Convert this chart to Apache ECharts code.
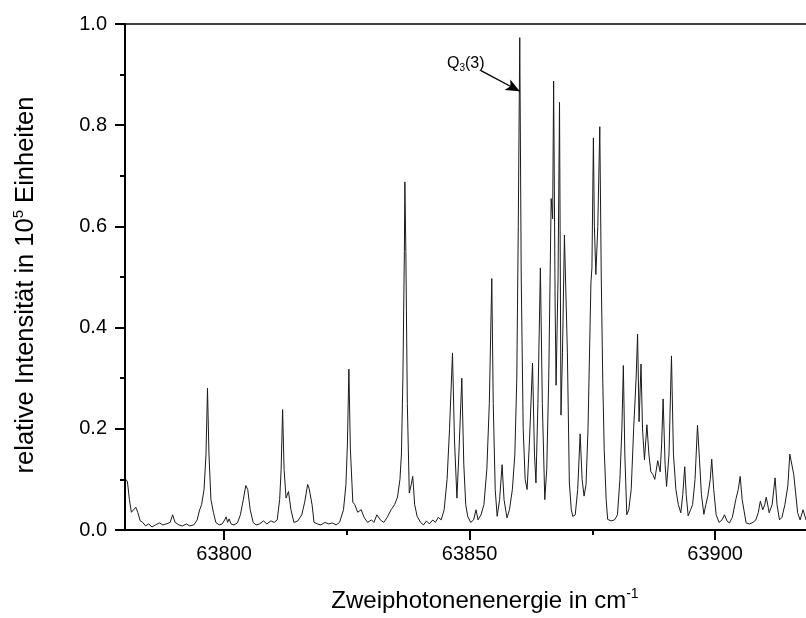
<!DOCTYPE html>
<html>
<head>
<meta charset="utf-8">
<script src="https://cdn.jsdelivr.net/npm/echarts@6/dist/echarts.min.js"></script>
<style>
html,body{margin:0;padding:0;background:#fff;}
#chart{width:806px;height:618px;}
</style>
</head>
<body>
<div id="chart"></div>
<script>
// wavenumber (cm^-1)
var wavenumber = [
63780.0,63780.3,63780.7,63781.1,63781.4,63782.0,63782.4,63782.9,63783.4,63784.0,
63784.6,63785.3,63786.0,63786.8,63787.5,63788.2,63789.0,63789.5,63790.0,63790.8,
63791.5,63792.3,63793.0,63793.8,63794.5,63795.0,63795.4,63795.9,63796.3,63796.6,
63796.9,63797.3,63797.8,63798.3,63799.0,63799.6,63800.1,63800.4,63800.7,63801.0,
63801.4,63802.0,63802.7,63803.3,63803.9,63804.4,63804.8,63805.3,63805.9,63806.5,
63807.2,63808.0,63808.7,63809.5,63810.2,63810.8,63811.3,63811.6,63811.9,63812.2,
63812.6,63813.1,63813.6,63814.2,63815.0,63815.8,63816.4,63817.0,63817.3,63817.5,
63817.9,63818.3,63819.0,63819.7,63820.5,63821.3,63822.0,63822.8,63823.5,63824.3,
63824.8,63825.1,63825.4,63825.7,63826.2,63826.6,63827.2,63827.9,63828.5,63829.2,
63830.0,63830.5,63831.1,63831.8,63832.5,63833.2,63834.0,63834.7,63835.3,63835.8,
63836.1,63836.4,63836.7,63836.8,63837.0,63837.3,63837.7,63838.1,63838.4,63838.8,
63839.3,63840.0,63840.6,63841.2,63841.8,63842.5,63843.0,63843.6,63844.2,63844.8,
63845.4,63845.9,63846.5,63846.9,63847.4,63847.8,63848.4,63848.8,63849.2,63849.6,
63850.2,63850.8,63851.3,63851.7,63852.3,63852.9,63853.5,63854.0,63854.5,63854.8,
63855.2,63855.6,63856.1,63856.6,63857.0,63857.6,63858.1,63858.7,63859.2,63859.6,
63859.9,63860.2,63860.5,63860.9,63861.3,63861.7,63862.2,63862.8,63863.2,63863.5,
63863.9,63864.4,63864.8,63865.3,63865.7,63866.1,63866.6,63866.9,63867.1,63867.4,
63867.6,63868.0,63868.3,63868.6,63868.9,63869.3,63869.6,63869.9,63870.3,63870.7,
63871.0,63871.5,63872.0,63872.5,63872.9,63873.3,63873.7,63874.1,63874.7,63874.9,
63875.2,63875.4,63875.7,63876.1,63876.5,63876.8,63877.1,63877.4,63877.8,63878.1,
63878.8,63879.5,63880.1,63880.6,63881.0,63881.3,63881.6,63882.0,63882.4,63882.9,
63883.4,63883.9,63884.2,63884.5,63884.9,63885.2,63885.6,63886.1,63886.5,63886.9,
63887.3,63887.7,63888.3,63888.8,63889.1,63889.4,63889.8,63890.1,63890.6,63891.1,
63891.5,63892.0,63892.5,63893.0,63893.4,63893.8,63894.1,63894.5,63895.0,63895.4,
63895.9,63896.4,63896.8,63897.2,63897.7,63898.1,63898.5,63899.0,63899.3,63899.7,
63900.2,63900.8,63901.4,63901.9,63902.4,63902.9,63903.5,63904.2,63904.7,63905.1,
63905.5,63906.3,63907.0,63907.7,63908.3,63908.8,63909.2,63909.7,63910.1,63910.4,
63910.8,63911.0,63911.6,63912.2,63912.6,63913.1,63913.6,63914.2,63914.8,63915.2,
63915.6,63916.0,63916.8,63917.3,63917.9,63918.5
];
// relative intensity (10^5 units)
var intensity = [
0.100,0.095,0.060,0.035,0.038,0.045,0.035,0.018,0.015,0.008,
0.012,0.006,0.010,0.014,0.010,0.012,0.015,0.030,0.015,0.010,
0.008,0.012,0.008,0.010,0.020,0.040,0.050,0.080,0.150,0.280,
0.150,0.060,0.035,0.015,0.010,0.012,0.020,0.026,0.015,0.022,
0.012,0.010,0.014,0.030,0.060,0.088,0.080,0.040,0.015,0.010,
0.012,0.018,0.012,0.018,0.015,0.020,0.060,0.120,0.238,0.120,
0.063,0.076,0.040,0.015,0.018,0.030,0.055,0.090,0.082,0.082,
0.050,0.015,0.012,0.010,0.015,0.012,0.014,0.010,0.015,0.040,
0.090,0.170,0.318,0.160,0.055,0.050,0.035,0.040,0.025,0.015,
0.020,0.015,0.030,0.020,0.015,0.025,0.040,0.050,0.065,0.100,
0.150,0.300,0.550,0.688,0.550,0.250,0.073,0.090,0.106,0.050,
0.027,0.015,0.010,0.018,0.012,0.020,0.015,0.025,0.020,0.040,
0.100,0.200,0.350,0.180,0.063,0.150,0.300,0.130,0.050,0.027,
0.015,0.020,0.040,0.020,0.030,0.050,0.120,0.250,0.497,0.250,
0.080,0.027,0.060,0.129,0.060,0.024,0.040,0.080,0.150,0.300,
0.600,0.973,0.500,0.200,0.100,0.080,0.180,0.330,0.150,0.093,
0.250,0.518,0.250,0.060,0.120,0.300,0.655,0.615,0.887,0.450,
0.286,0.500,0.845,0.227,0.350,0.583,0.580,0.350,0.093,0.040,
0.027,0.030,0.080,0.190,0.100,0.067,0.090,0.200,0.490,0.518,
0.775,0.600,0.505,0.600,0.797,0.500,0.300,0.159,0.060,0.021,
0.018,0.020,0.030,0.100,0.200,0.325,0.150,0.030,0.040,0.080,
0.200,0.300,0.387,0.214,0.328,0.200,0.139,0.208,0.150,0.115,
0.110,0.100,0.137,0.115,0.170,0.259,0.130,0.086,0.150,0.344,
0.150,0.080,0.050,0.034,0.070,0.125,0.070,0.028,0.040,0.050,
0.100,0.207,0.140,0.070,0.031,0.050,0.067,0.100,0.140,0.080,
0.030,0.015,0.020,0.030,0.018,0.014,0.025,0.060,0.080,0.106,
0.060,0.014,0.012,0.015,0.020,0.035,0.057,0.040,0.050,0.065,
0.045,0.034,0.050,0.103,0.050,0.020,0.025,0.050,0.087,0.150,
0.148,0.110,0.034,0.020,0.040,0.020
];
var xMajorTicks = [63800, 63850, 63900];
var xMinorTicks = [63825, 63875];
var annotationText = 'Q3(3)';
var annotationArrow = [[63852.3, 0.908], [63860.2, 0.867]];
var annotationLabelAt = [63849.2, 0.922];

var seriesData = wavenumber.map(function (w, i) { return [w, intensity[i]]; });

var chart = echarts.init(document.getElementById('chart'), null, {renderer: 'canvas'});
var FONT = 'Liberation Sans, Arial, sans-serif';
var xMin = 63779.8, xMax = 63918.5;

chart.setOption({
  animation: false,
  backgroundColor: '#ffffff',
  grid: {
    left: 125, top: 24, right: 0, bottom: 84, show: false
  },
  xAxis: [{
    type: 'value', min: xMin, max: xMax, position: 'bottom',
    axisLine: {show: true, lineStyle: {color: '#000', width: 2}},
    axisTick: {show: true, length: 10, customValues: xMajorTicks, lineStyle: {color: '#000', width: 2}},
    axisLabel: {show: true, customValues: xMajorTicks, margin: 14, color: '#000', fontSize: 20, fontFamily: FONT,
      formatter: function (v) { return String(Math.round(v)); }},
    splitLine: {show: false},
    name: '{t|Zweiphotonenenergie in cm}{sup|-1}',
    nameLocation: 'middle', nameGap: 57,
    nameTextStyle: {
      fontFamily: FONT, color: '#000', padding: [0, 0, 0, 39],
      rich: {
        t: {fontSize: 24, lineHeight: 28, fontFamily: FONT, color: '#000'},
        sup: {fontSize: 14, lineHeight: 14, verticalAlign: 'top', fontFamily: FONT, color: '#000'}
      }
    }
  }, {
    type: 'value', min: xMin, max: xMax, position: 'bottom', gridIndex: 0,
    axisLine: {show: false},
    axisTick: {show: true, length: 5, customValues: xMinorTicks, lineStyle: {color: '#000', width: 2}},
    axisLabel: {show: false},
    splitLine: {show: false}
  }, {
    type: 'value', min: xMin, max: xMax, position: 'top', gridIndex: 0,
    axisLine: {show: true, onZero: false, lineStyle: {color: '#000', width: 1.5}},
    axisTick: {show: false},
    axisLabel: {show: false},
    splitLine: {show: false}
  }],
  yAxis: {
    type: 'value', min: 0, max: 1, interval: 0.2,
    axisLine: {show: true, lineStyle: {color: '#000', width: 2}},
    axisTick: {show: true, length: 10, lineStyle: {color: '#000', width: 2}},
    minorTick: {show: true, splitNumber: 2, length: 5, lineStyle: {color: '#000', width: 2}},
    axisLabel: {margin: 18, color: '#000', fontSize: 20, fontFamily: FONT,
      formatter: function (v) { return v.toFixed(1); }},
    splitLine: {show: false},
    minorSplitLine: {show: false},
    name: '{t|relative Intensität in 10}{sup|5}{t| Einheiten}',
    nameLocation: 'middle', nameGap: 84, nameRotate: 90,
    nameTextStyle: {
      fontFamily: FONT, color: '#000', padding: [0, 16, 0, 0],
      rich: {
        t: {fontSize: 25.5, lineHeight: 30, fontFamily: FONT, color: '#000'},
        sup: {fontSize: 15, lineHeight: 15, verticalAlign: 'top', fontFamily: FONT, color: '#000'}
      }
    }
  },
  series: [{
    type: 'line',
    xAxisIndex: 0,
    data: seriesData,
    showSymbol: false,
    symbol: 'none',
    lineStyle: {color: '#1a1a1a', width: 1},
    clip: true,
    markLine: {
      silent: true,
      symbol: ['none', 'arrow'],
      symbolSize: [9, 14],
      label: {show: false},
      lineStyle: {color: '#000', width: 1.3, type: 'solid'},
      data: [[{coord: annotationArrow[0]}, {coord: annotationArrow[1]}]]
    },
    markPoint: {
      silent: true,
      symbol: 'circle', symbolSize: 0,
      label: {
        show: true, position: 'inside',
        formatter: '{a|Q}{s|3}{a|(3)}',
        rich: {
          a: {fontSize: 16, lineHeight: 20, fontFamily: FONT, color: '#000'},
          s: {fontSize: 10, lineHeight: 10, verticalAlign: 'bottom', fontFamily: FONT, color: '#000'}
        }
      },
      data: [{coord: annotationLabelAt, value: annotationText}]
    }
  }]
});
</script>
</body>
</html>
